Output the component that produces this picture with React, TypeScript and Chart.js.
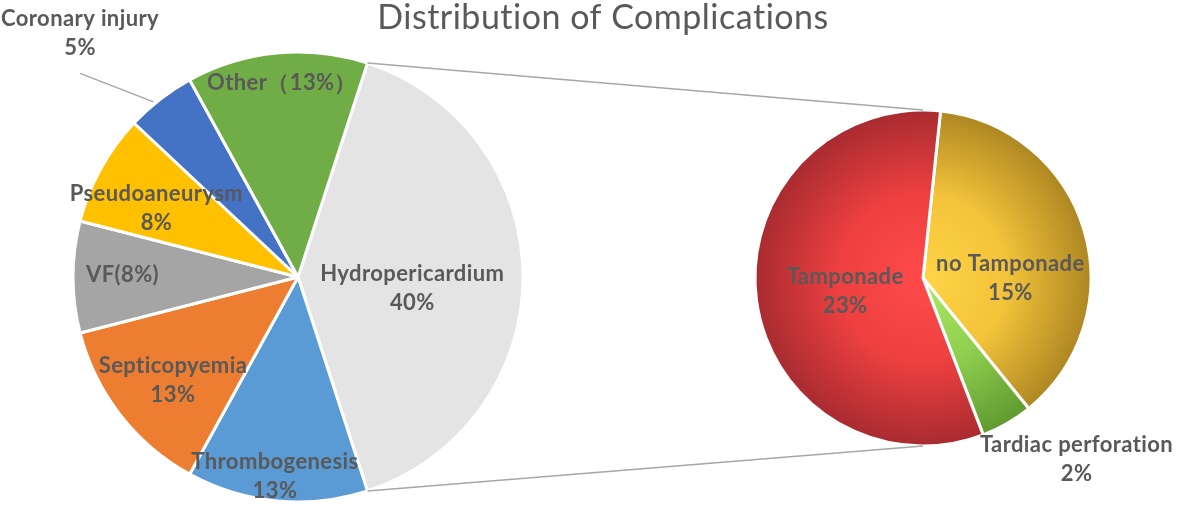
import React, { useEffect, useRef } from "react";
import { Chart, registerables } from "chart.js";

Chart.register(...registerables);

// ---------- data ----------
const titleText = "Distribution of Complications";

const mainCategories = [
  "Hydropericardium",
  "Thrombogenesis",
  "Septicopyemia",
  "VF",
  "Pseudoaneurysm",
  "Coronary injury",
  "Other",
];
const mainValues = [40, 13, 13, 8, 8, 5, 13];
const mainLabelLines = [
  ["Hydropericardium", "40%"],
  ["Thrombogenesis", "13%"],
  ["Septicopyemia", "13%"],
  ["VF(8%)"],
  ["Pseudoaneurysm", "8%"],
  ["Coronary injury", "5%"],
  ["Other（13%）"],
];

const subCategories = ["no Tamponade", "Tardiac perforation", "Tamponade"];
const subValues = [15, 2, 23];
const subLabelLines = [
  ["no Tamponade", "15%"],
  ["Tardiac perforation", "2%"],
  ["Tamponade", "23%"],
];

// ---------- styles / layout ----------
const W = 1181;
const H = 508;
const TEXT_COLOR = "#595959";
const LABEL_FONT = "bold 22px Lato";
const LABEL_SIZE = 22;
const LABEL_SPACING = "0.4px";
const LINE_H = 29;

const mainColors = ["#E4E4E4", "#5B9BD5", "#ED7D31", "#A5A5A5", "#FFC000", "#4472C4", "#70AD47"];
const subGradients = [
  ["#FFD445", "#F3C33A", "#AE8722"],
  ["#A9EA62", "#92D050", "#5F9A30"],
  ["#FF4A4A", "#EE4040", "#A82B30"],
];

// label placement: [angle deg clockwise from top, fraction of radius]
const mainLabelPlacement = [
  [95.3, 0.51],
  [186.6, 0.89],
  [230.5, 0.72],
  [271, 0.78],
  [296, 0.7],
  [318.3, 1.456],
  [355.3, 0.87],
];
const subLabelPlacement = [
  [90, 0.52],
  [139.6, 1.41],
  [260.5, 0.47],
];

const MAIN_R = 225;
const SUB_R = 168;
const mainArea = { left: 73, top: 52, right: 523, bottom: 502 };
const subArea = { left: 755, top: 110, right: 1091, bottom: 446 };

const mainTotal = mainValues.reduce((a, b) => a + b, 0);
const mainRotation = 90 - (360 * mainValues[0]) / mainTotal / 2;
const subRotation = 6;

function drawLabels(chart: any, lines: string[][], placement: number[][]) {
  const meta = chart.getDatasetMeta(0);
  const ctx = chart.ctx as any;
  ctx.save();
  ctx.font = LABEL_FONT;
  ctx.letterSpacing = LABEL_SPACING;
  ctx.fillStyle = TEXT_COLOR;
  ctx.textAlign = "center";
  ctx.textBaseline = "alphabetic";
  meta.data.forEach((arc: any, i: number) => {
    const { x, y, outerRadius } = arc.getProps(["x", "y", "outerRadius"], true);
    const [deg, f] = placement[i];
    const a = ((deg - 90) * Math.PI) / 180;
    const px = x + Math.cos(a) * f * outerRadius;
    const py = y + Math.sin(a) * f * outerRadius;
    const ls = lines[i];
    const total = (ls.length - 1) * LINE_H;
    ls.forEach((t, k) => {
      ctx.fillText(t, px, py - total / 2 + k * LINE_H + LABEL_SIZE * 0.36);
    });
  });
  ctx.restore();
}

export default function App() {
  const leftRef = useRef<HTMLCanvasElement>(null);
  const rightRef = useRef<HTMLCanvasElement>(null);

  useEffect(() => {
    document.body.style.margin = "0";

    const leftPlugin = {
      id: "leftDecor",
      afterDatasetsDraw(chart: any) {
        const ctx = chart.ctx as any;
        // title
        ctx.save();
        ctx.font = "34px Lato";
        ctx.letterSpacing = "0.5px";
        ctx.fillStyle = TEXT_COLOR;
        ctx.textAlign = "center";
        ctx.textBaseline = "alphabetic";
        ctx.fillText(titleText, 603, 29);
        ctx.restore();

        // leader line for Coronary injury
        const meta = chart.getDatasetMeta(0);
        const arc: any = meta.data[5];
        const { x, y, outerRadius } = arc.getProps(["x", "y", "outerRadius"], true);
        const [deg, f] = mainLabelPlacement[5];
        const a = ((deg - 90) * Math.PI) / 180;
        const lx = x + Math.cos(a) * f * outerRadius;
        const ly = y + Math.sin(a) * f * outerRadius;
        const mid = (arc.startAngle + arc.endAngle) / 2 - 0.03;
        ctx.save();
        ctx.strokeStyle = "#A6A6A6";
        ctx.lineWidth = 1.5;
        ctx.beginPath();
        ctx.moveTo(x + Math.cos(mid) * (outerRadius + 2), y + Math.sin(mid) * (outerRadius + 2));
        ctx.lineTo(lx, ly + 41);
        ctx.stroke();
        ctx.restore();

        drawLabels(chart, mainLabelLines, mainLabelPlacement);
      },
    };

    const left = new Chart(leftRef.current as HTMLCanvasElement, {
      type: "pie",
      data: {
        labels: mainCategories,
        datasets: [
          {
            data: mainValues,
            backgroundColor: mainColors,
            borderColor: "#FFFFFF",
            borderWidth: 3,
            hoverOffset: 0,
            radius: MAIN_R,
          } as any,
        ],
      },
      options: {
        responsive: false,
        animation: false,
        rotation: mainRotation,
        layout: {
          padding: {
            left: mainArea.left,
            top: mainArea.top,
            right: W - mainArea.right,
            bottom: H - mainArea.bottom,
          },
        },
        plugins: { legend: { display: false }, tooltip: { enabled: false }, title: { display: false } },
        events: [],
      } as any,
      plugins: [leftPlugin],
    });

    const rightPlugin = {
      id: "rightDecor",
      afterDatasetsDraw(chart: any) {
        const ctx = chart.ctx as CanvasRenderingContext2D;
        const lm = left.getDatasetMeta(0);
        const agg: any = lm.data[0];
        const p = agg.getProps(["x", "y", "outerRadius", "startAngle", "endAngle"], true);
        const rm = chart.getDatasetMeta(0);
        const r0: any = rm.data[0];
        const q = r0.getProps(["x", "y", "outerRadius"], true);
        ctx.save();
        ctx.strokeStyle = "#A6A6A6";
        ctx.lineWidth = 1.5;
        ctx.beginPath();
        ctx.moveTo(p.x + Math.cos(p.startAngle) * p.outerRadius, p.y + Math.sin(p.startAngle) * p.outerRadius);
        ctx.lineTo(q.x, q.y - q.outerRadius);
        ctx.moveTo(p.x + Math.cos(p.endAngle) * p.outerRadius, p.y + Math.sin(p.endAngle) * p.outerRadius);
        ctx.lineTo(q.x, q.y + q.outerRadius);
        ctx.stroke();
        ctx.restore();
        drawLabels(chart, subLabelLines, subLabelPlacement);
      },
    };

    const right = new Chart(rightRef.current as HTMLCanvasElement, {
      type: "pie",
      data: {
        labels: subCategories,
        datasets: [
          {
            data: subValues,
            backgroundColor: (c: any) => {
              const stops = subGradients[c.dataIndex ?? 0] || subGradients[0];
              const chart = c.chart;
              const area = chart.chartArea;
              if (!area) return stops[1];
              const cx = (area.left + area.right) / 2;
              const cy = (area.top + area.bottom) / 2;
              const g = chart.ctx.createRadialGradient(cx, cy, 0, cx, cy, SUB_R);
              g.addColorStop(0, stops[0]);
              g.addColorStop(0.5, stops[1]);
              g.addColorStop(1, stops[2]);
              return g;
            },
            borderColor: "#FFFFFF",
            borderWidth: 3,
            hoverOffset: 0,
            radius: SUB_R,
          } as any,
        ],
      },
      options: {
        responsive: false,
        animation: false,
        rotation: subRotation,
        layout: {
          padding: {
            left: subArea.left,
            top: subArea.top,
            right: W - subArea.right,
            bottom: H - subArea.bottom,
          },
        },
        plugins: { legend: { display: false }, tooltip: { enabled: false }, title: { display: false } },
        events: [],
      } as any,
      plugins: [rightPlugin],
    });

    return () => {
      right.destroy();
      left.destroy();
    };
  }, []);

  return (
    <div style={{ position: "relative", width: W, height: H, background: "#FFFFFF" }}>
      <canvas ref={leftRef} width={W} height={H} style={{ position: "absolute", left: 0, top: 0 }} />
      <canvas ref={rightRef} width={W} height={H} style={{ position: "absolute", left: 0, top: 0 }} />
    </div>
  );
}
